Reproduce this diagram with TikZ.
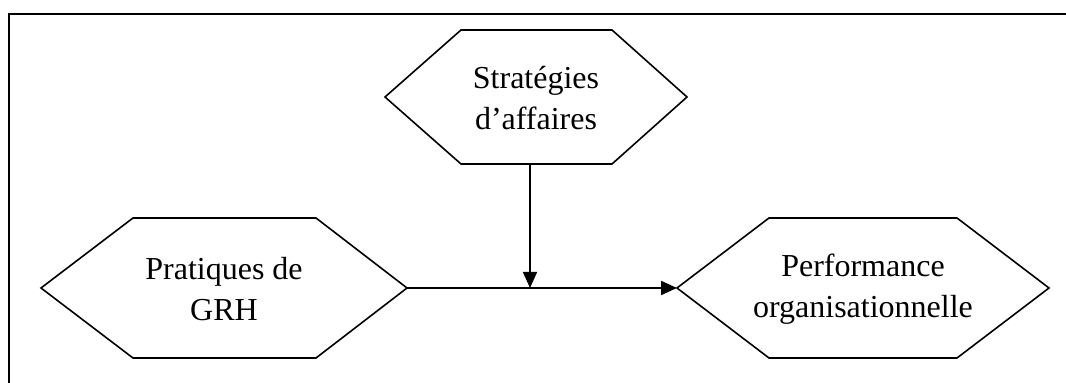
\documentclass[tikz,border=0pt]{standalone}
\usepackage{fontspec}
\setmainfont{Liberation Serif}
\usetikzlibrary{arrows.meta}
\tikzset{
  hextext/.style={align=center, inner sep=0pt, font=\fontsize{16}{20.5}\selectfont},
  hexline/.style={draw, line width=0.8pt, line join=miter},
  link/.style={-{Triangle[length=8pt,width=7pt]}, line width=1.1pt}
}

\begin{document}
\begin{tikzpicture}[x=0.5pt, y=-0.5pt]
  \useasboundingbox (0,0) rectangle (1066,383);

  % cadre
  \draw[line width=1pt] (9,383) -- (9,14) -- (1066,14);

  % les trois blocs
  \node (strat) [hextext] at (536,98) {Stratégies\\d’affaires};
  \node (prat) [hextext] at (224,289) {Pratiques de\\GRH};
  \node (perf) [hextext] at (863,289) {Performance\\organisationnelle};

  % contours hexagonaux
  \draw[hexline] (536,97) ++(-151,0) coordinate (strat-w) -- ++(76,-67) -- ++(151,0)
    -- ++(75,67) coordinate (strat-e) -- ++(-75,67) -- ++(-151,0) -- cycle;
  \draw[hexline] (224,288) ++(-183,0) coordinate (prat-w) -- ++(92,-70) -- ++(183,0)
    -- ++(91,70) coordinate (prat-e) -- ++(-91,70) -- ++(-183,0) -- cycle;
  \draw[hexline] (863,288) ++(-186,0) coordinate (perf-w) -- ++(92,-70) -- ++(188,0)
    -- ++(92,70) coordinate (perf-e) -- ++(-92,70) -- ++(-188,0) -- cycle;
  \path (536,97) ++(-6,67) coordinate (strat-s);

  % liens
  \draw[link] (prat-e) -- (perf-w);
  \draw[link, line width=0.8pt] (strat-s) -- (strat-s |- prat-e);
\end{tikzpicture}
\end{document}
